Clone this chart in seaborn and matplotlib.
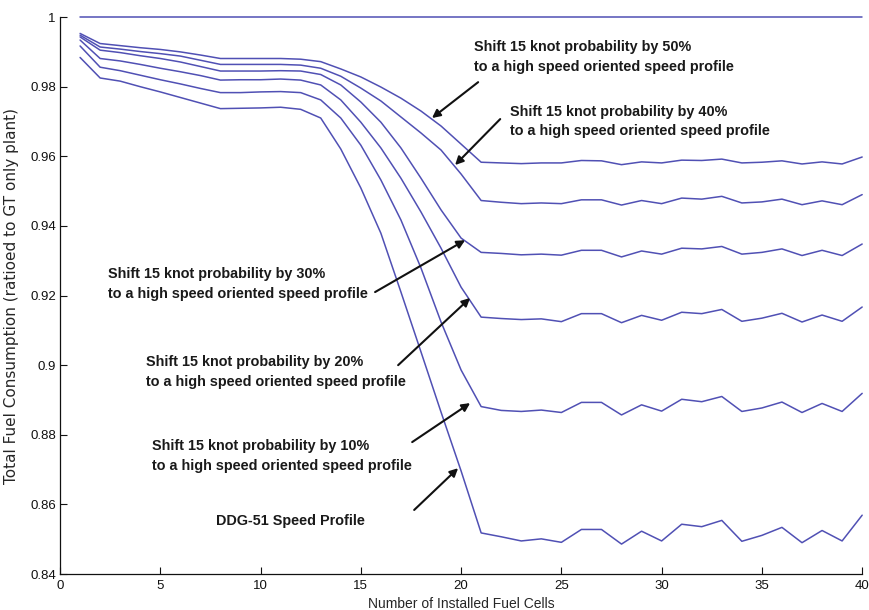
import numpy as np
import pandas as pd
import matplotlib
matplotlib.use("Agg")
import matplotlib.pyplot as plt
import seaborn as sns

# Number of installed fuel cells
cells = list(range(1, 41))

# Fuel consumption ratioed to a GT-only plant, one series per speed profile
gt_only = [1.0] * 40

shift_50 = [0.9953, 0.9924, 0.9918, 0.9912, 0.9907, 0.9900, 0.9891, 0.9881, 0.9881, 0.9881,
            0.9881, 0.9879, 0.9872, 0.9851, 0.9828, 0.9799, 0.9767, 0.9730, 0.9687, 0.9635,
            0.9583, 0.9581, 0.9579, 0.9581, 0.9581, 0.9588, 0.9587, 0.9576, 0.9584, 0.9581,
            0.9589, 0.9588, 0.9592, 0.9581, 0.9583, 0.9587, 0.9578, 0.9584, 0.9578, 0.9598]

shift_40 = [0.9948, 0.9914, 0.9908, 0.9901, 0.9895, 0.9888, 0.9876, 0.9864, 0.9864, 0.9864,
            0.9864, 0.9862, 0.9853, 0.9830, 0.9796, 0.9759, 0.9713, 0.9667, 0.9618, 0.9549,
            0.9473, 0.9468, 0.9464, 0.9466, 0.9464, 0.9475, 0.9475, 0.9460, 0.9473, 0.9464,
            0.9480, 0.9477, 0.9485, 0.9466, 0.9469, 0.9477, 0.9461, 0.9472, 0.9461, 0.9490]

shift_30 = [0.9943, 0.9905, 0.9898, 0.9889, 0.9881, 0.9871, 0.9858, 0.9845, 0.9845, 0.9845,
            0.9846, 0.9845, 0.9835, 0.9805, 0.9756, 0.9698, 0.9624, 0.9537, 0.9446, 0.9365,
            0.9324, 0.9321, 0.9317, 0.9319, 0.9316, 0.9330, 0.9330, 0.9311, 0.9328, 0.9319,
            0.9336, 0.9334, 0.9341, 0.9319, 0.9324, 0.9334, 0.9315, 0.9330, 0.9315, 0.9348]

shift_20 = [0.9934, 0.9881, 0.9874, 0.9864, 0.9853, 0.9843, 0.9832, 0.9819, 0.9820, 0.9820,
            0.9822, 0.9819, 0.9805, 0.9762, 0.9698, 0.9624, 0.9537, 0.9440, 0.9336, 0.9224,
            0.9138, 0.9134, 0.9131, 0.9133, 0.9125, 0.9148, 0.9148, 0.9122, 0.9143, 0.9129,
            0.9152, 0.9148, 0.9160, 0.9126, 0.9135, 0.9149, 0.9124, 0.9144, 0.9126, 0.9167]

shift_10 = [0.9917, 0.9856, 0.9846, 0.9833, 0.9820, 0.9808, 0.9795, 0.9783, 0.9783, 0.9785,
            0.9786, 0.9783, 0.9762, 0.9710, 0.9632, 0.9532, 0.9417, 0.9279, 0.9124, 0.8986,
            0.8881, 0.8870, 0.8867, 0.8871, 0.8864, 0.8893, 0.8893, 0.8857, 0.8886, 0.8868,
            0.8902, 0.8895, 0.8910, 0.8867, 0.8877, 0.8894, 0.8864, 0.8890, 0.8867, 0.8919]

ddg51 = [0.9884, 0.9825, 0.9816, 0.9800, 0.9785, 0.9769, 0.9753, 0.9737, 0.9738, 0.9739,
         0.9741, 0.9735, 0.9710, 0.9621, 0.9509, 0.9379, 0.9210, 0.9038, 0.8865, 0.8696,
         0.8518, 0.8507, 0.8495, 0.8501, 0.8491, 0.8528, 0.8528, 0.8486, 0.8523, 0.8495,
         0.8543, 0.8536, 0.8554, 0.8494, 0.8511, 0.8534, 0.8490, 0.8525, 0.8495, 0.8569]

profiles = ["GT only", "Shift 50%", "Shift 40%", "Shift 30%", "Shift 20%", "Shift 10%", "DDG-51"]
series = [gt_only, shift_50, shift_40, shift_30, shift_20, shift_10, ddg51]

x_ticks = [0, 5, 10, 15, 20, 25, 30, 35, 40]
y_ticks = [0.84, 0.86, 0.88, 0.90, 0.92, 0.94, 0.96, 0.98, 1.0]
y_tick_labels = ["0.84", "0.86", "0.88", "0.9", "0.92", "0.94", "0.96", "0.98", "1"]

df = pd.DataFrame({
    "cells": np.tile(cells, len(series)),
    "fuel": np.concatenate(series),
    "profile": np.repeat(profiles, len(cells)),
})

sns.set_style("ticks")
plt.rcParams["font.family"] = ["Liberation Sans", "DejaVu Sans"]

line_color = "#5050b4"

fig = plt.figure(figsize=(8.7, 6.1), dpi=100)
ax = fig.add_axes([0.069, 0.059, 0.922, 0.913])

sns.lineplot(data=df, x="cells", y="fuel", hue="profile", hue_order=profiles,
             palette=[line_color] * len(profiles), estimator=None, legend=False,
             linewidth=1.1, ax=ax)
for line in ax.get_lines():
    line.set_clip_on(False)

ax.set_xlim(0, 40)
ax.set_ylim(0.84, 1.0)
ax.set_xticks(x_ticks)
ax.set_xticklabels([str(t) for t in x_ticks])
ax.set_yticks(y_ticks)
ax.set_yticklabels(y_tick_labels)
ax.tick_params(direction="in", length=5, width=0.8, labelsize=9.5, colors="#111111")
ax.tick_params(axis="x", pad=4)
ax.tick_params(axis="y", pad=3)
for side in ("top", "right"):
    ax.spines[side].set_visible(False)
for side in ("left", "bottom"):
    ax.spines[side].set_linewidth(0.9)
    ax.spines[side].set_color("#111111")

ax.set_xlabel("Number of Installed Fuel Cells", fontsize=10, labelpad=4)
ax.set_ylabel("Total Fuel Consumption (ratioed to GT only plant)", fontsize=11,
              family=["DejaVu Sans"])
ax.yaxis.set_label_coords(-0.051, 0.5)

# Callouts: (text, text position, arrow tail, arrow tip)
callouts = [
    ("Shift 15 knot probability by 50%\nto a high speed oriented speed profile",
     (20.65, 0.9885), (20.85, 0.9813), (18.55, 0.9710)),
    ("Shift 15 knot probability by 40%\nto a high speed oriented speed profile",
     (22.45, 0.9700), (21.95, 0.9707), (19.70, 0.9575)),
    ("Shift 15 knot probability by 30%\nto a high speed oriented speed profile",
     (2.40, 0.9233), (15.71, 0.9210), (20.20, 0.9359)),
    ("Shift 15 knot probability by 20%\nto a high speed oriented speed profile",
     (4.29, 0.8980), (16.86, 0.9000), (20.45, 0.9193)),
    ("Shift 15 knot probability by 10%\nto a high speed oriented speed profile",
     (4.59, 0.8739), (17.56, 0.8779), (20.45, 0.8891)),
    ("DDG-51 Speed Profile",
     (7.78, 0.8552), (17.66, 0.8584), (19.85, 0.8704)),
]
for label, text_pos, tail, tip in callouts:
    ax.text(text_pos[0], text_pos[1], label, ha="left", va="center",
            fontsize=10.4, fontweight="bold", color="#1a1a1a", linespacing=1.5)
    ax.annotate("", xy=tip, xytext=tail,
                arrowprops=dict(arrowstyle="-|>", color="#111111", lw=1.5,
                                mutation_scale=12, shrinkA=0, shrinkB=0))

fig.savefig("out.png", dpi=100, facecolor="white")
